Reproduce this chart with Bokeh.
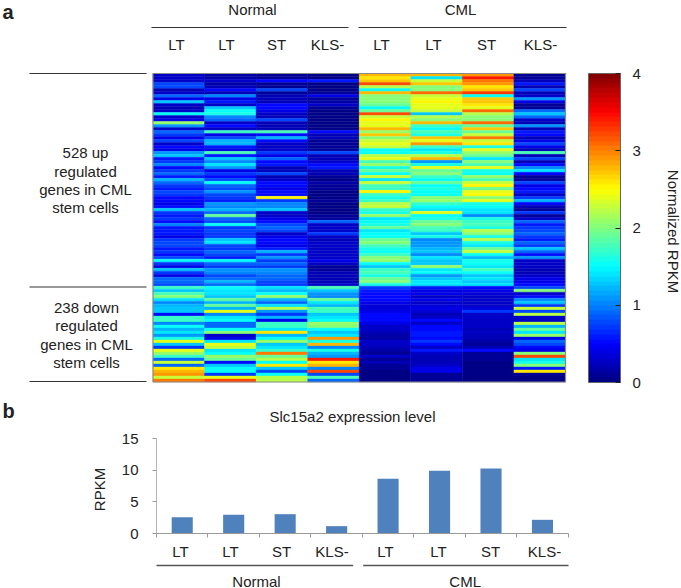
from bokeh.plotting import figure
from bokeh.layouts import column
from bokeh.models import (Range1d, LinearColorMapper, ColorBar, FixedTicker, LinearAxis,
                          ColumnDataSource)
from bokeh.transform import linear_cmap
from bokeh.core.properties import value
from bokeh.embed import file_html
from bokeh.resources import INLINE

groups = ["Normal", "CML"]
samples = ["LT", "LT", "ST", "KLS-", "LT", "LT", "ST", "KLS-"]
cbar_ticks = [0, 1, 2, 3, 4]
rpkm_ticks = [0, 5, 10, 15]
slc15a2 = [2.58, 2.95, 3.05, 1.16, 8.63, 9.9, 10.27, 2.16]

normal_lt1 = [.3,.3,.25,.8,.8,.2,.3,.9,.4,1.3,.3,.2,.25,1.5,.3,.4,2.1,1.1,.3,.9,.7,.4,.8,.3,.5,.4,1.1,1.3,.6,.7,1.0,.5,.7,.9,.6,1.2,
 .9,.7,.6,.8,.7,.5,.5,.4,.5,1.3,.7,.6,.7,.5,1.0,.6,.6,.6,.4,.7,.8,.8,.6,.7,.5,.8,1.5,.7,.4,1.3,.7,.4,.9,.9,.8,1.7,
 1.3,1.8,2.0,1.4,1.0,1.2,1.3,1.3,.5,1.7,1.7,1.0,1.5,1.2,1.4,1.1,1.6,2.4,1.3,.7,2.4,2.1,1.7,.9,2.3,.9,2.6,2.8,2.9,2.3,3.0]
normal_lt2 = [.15,.15,.3,.15,.2,.5,.2,1.0,.4,.6,.3,1.3,1.5,1.6,1.0,.9,.3,.5,.3,1.7,.4,.8,1.2,1.2,.6,.4,1.8,.6,1.3,1.0,1.4,1.1,.4,.7,.5,.8,
 1.5,.9,.8,1.1,.8,.7,.6,1.1,1.0,1.2,.9,1.9,.9,.8,1.5,.7,.8,.7,.7,1.3,1.4,.8,.7,.9,.8,.6,1.5,.9,.7,1.1,1.0,.8,.9,1.2,.9,1.5,
 1.4,1.4,1.3,1.9,1.2,1.9,1.2,2.4,1.0,1.4,1.5,.9,.9,1.5,2.0,.3,.4,1.4,2.4,2.3,1.4,1.5,2.1,1.9,.5,1.3,1.5,1.5,.7,2.4,3.2]
normal_st = [.1,.1,.5,.1,.1,.8,.1,.2,.2,.2,.5,.5,.4,.3,.2,.8,.2,.2,.2,1.8,.5,1.2,.5,.3,.3,.3,.7,.4,.9,.5,.6,.2,.2,.8,.2,.3,
 .5,.5,.4,.5,.5,2.5,.7,1.0,1.0,1.3,.3,.3,.4,.5,.8,.9,.8,.3,.4,.5,.5,.4,.6,1.2,.7,1.1,.7,.9,.7,1.1,1.0,.9,.9,.8,.7,1.4,
 1.2,1.5,2.1,1.2,.9,1.4,2.2,1.1,.7,1.2,.4,1.7,1.7,1.4,2.6,1.2,1.5,2.1,1.3,1.4,1.7,3.0,1.9,2.2,1.5,2.6,1.3,.8,1.5,2.2,2.2]
normal_kls = [.05,.05,.6,.05,.05,.05,.1,.4,.1,.15,.3,.1,.05,.05,.05,.05,.05,.05,.05,.5,.2,.2,.1,.1,.1,.1,.8,.2,.2,.3,.5,.6,.2,.2,.1,.05,
 .15,.1,.1,.05,.05,.05,.1,.05,.05,.05,.05,.1,.1,.9,.3,.3,.3,.7,.3,.2,.3,.3,.3,.3,.3,.3,.4,.3,.1,.1,.2,.2,.2,.2,.3,1.8,
 1.3,1.1,1.0,1.9,1.4,1.2,1.8,1.7,1.3,1.4,1.5,2.1,2.0,1.5,1.3,1.4,2.9,1.6,2.8,1.0,1.6,1.2,1.1,3.4,2.6,2.8,1.0,3.2,.8,1.8,.9]
cml_lt1 = [2.8,2.6,2.7,3.2,2.2,1.5,2.8,2.0,2.0,2.0,1.9,1.5,1.9,3.2,2.3,2.5,2.4,2.4,2.8,2.1,2.7,2.0,2.3,2.4,2.3,1.5,1.5,2.2,2.4,1.8,2.1,1.6,1.9,1.5,2.3,1.4,
 2.3,1.8,1.7,2.5,1.7,1.6,1.7,2.2,2.3,1.7,1.6,2.1,1.4,1.5,1.6,1.9,1.4,1.5,1.5,1.9,2.0,1.8,1.6,1.5,1.7,2.0,2.1,1.5,1.3,1.7,1.8,1.6,1.9,2.0,1.6,.7,
 .6,.5,.5,.5,.4,.35,.35,.4,.5,.5,.5,.4,.3,.3,.2,.15,.15,.3,.3,.2,.15,.1,.3,.1,.2,.1,.1,.05,.05,.05,.05]
cml_lt2 = [2.8,1.4,2.3,2.7,2.0,2.0,3.1,2.3,2.4,2.5,2.4,2.4,2.3,1.3,2.2,2.0,2.8,1.7,1.5,1.8,1.6,2.7,2.4,2.9,1.7,1.4,1.6,2.2,2.8,1.1,1.6,2.4,1.9,2.0,1.7,1.5,
 1.9,1.5,1.6,1.5,1.5,2.0,2.1,1.7,1.5,1.4,2.4,1.5,1.6,1.9,2.0,1.8,1.7,1.3,1.6,1.0,1.1,1.1,1.2,1.3,1.0,1.4,1.3,1.3,2.1,1.4,1.5,1.1,1.3,1.4,1.4,.6,
 .4,.4,.3,.4,.3,.35,.4,.35,.2,.3,.5,.3,.5,.5,.6,.6,.5,.7,.5,.3,.6,.3,.2,.2,.2,.3,.4,.4,.1,.1,.1]
cml_st = [2.9,3.4,3.0,2.9,2.6,2.7,3.3,1.5,2.7,2.7,2.6,2.4,3.1,2.2,2.0,2.0,3.1,1.9,2.7,1.9,2.3,3.0,2.3,2.6,1.6,2.4,2.1,1.9,1.4,2.0,1.8,2.4,1.6,1.5,2.1,1.8,
 2.3,2.5,1.9,2.4,2.5,2.0,2.4,1.6,1.5,1.4,1.4,1.0,1.6,1.7,1.8,1.6,2.2,2.0,1.6,2.2,1.6,1.4,1.9,2.3,1.5,1.2,1.6,1.5,1.4,1.8,1.5,1.3,1.4,1.3,1.4,.5,
 .4,.35,.3,.3,.25,.3,.35,.7,.3,.3,.3,.3,.3,.2,.25,.2,.2,.15,.1,.2,.5,.1,.1,.1,.05,.05,.05,.05,.05,.05,.05]
cml_kls = [.1,.1,.2,.6,.2,.8,.2,.3,1.1,.4,.1,.1,.9,1.3,.9,.3,.2,1.1,.2,.6,.5,.2,.4,.8,.4,.2,1.8,.2,.8,.2,.5,1.0,1.4,.5,.1,.1,
 .8,.4,.5,.6,.3,.7,1.2,.5,.2,.1,.7,.1,.3,.9,.6,.7,.8,.9,.7,.6,.9,.7,1.3,.9,.5,1.1,.3,.3,.3,.2,.2,.3,.4,.4,.5,.8,
 2.0,.3,.5,1.0,1.3,.7,2.3,.8,2.2,.3,.3,2.2,1.2,1.9,1.4,2.1,.4,.9,.8,.5,.4,2.0,3.2,1.4,1.6,2.0,.6,2.6,.1,.05,.05]
columns = [normal_lt1, normal_lt2, normal_st, normal_kls, cml_lt1, cml_lt2, cml_st, cml_kls]


def jet(n=64):
    out = []
    for i in range(n):
        t = (i + 0.5) / n
        chan = [min(1, max(0, 1.5 - abs(4 * t - c))) for c in (3, 2, 1)]
        out.append("#%02x%02x%02x" % tuple(int(round(255 * c)) for c in chan))
    return out


JET = jet()
FONT = value("Liberation Sans")
INK = "#222222"
W = 681

# ---------- top panel: frame spans the page; the heat map occupies part of it ----------
TOP_H = 400
LEFT = 152.5
CELL_W = (565 - LEFT) / 8
N_ROWS = len(normal_lt1)
CELL_H = (381.5 - 73) / N_ROWS


def tx(px):
    return (px - LEFT) / CELL_W


def ty(py):
    return (py - 73) / CELL_H


top = figure(width=W, height=TOP_H, output_backend="svg", toolbar_location=None,
             x_range=Range1d(tx(0), tx(W)), y_range=Range1d(ty(TOP_H), ty(0)),
             x_axis_type=None, y_axis_type=None, min_border=0, outline_line_color=None)
top.grid.visible = False

xs, ys, vs = [], [], []
for ci, col in enumerate(columns):
    for ri, v in enumerate(col):
        xs.append(ci + 0.5)
        ys.append(ri + 0.5)
        vs.append(v)
cmap = linear_cmap("v", JET, 0, 4)
top.rect(x="x", y="y", width=1, height=1, source=ColumnDataSource(dict(x=xs, y=ys, v=vs)),
         fill_color=cmap, line_color=cmap, line_width=0.4)
top.quad(left=[0], right=[8], top=[0], bottom=[N_ROWS], fill_color=None, line_color="#8a8a8a", line_width=1.2)


def top_text(px, py, texts, size="15px", align="center", angle=0, weight="normal"):
    top.text(x=[tx(px)], y=[ty(py)], text=[texts], text_font=FONT, text_font_size=size,
             text_align=align, text_baseline="middle", text_color=INK, angle=angle,
             text_font_style=weight)


def top_line(x0, x1, y0, y1, color="#333333", width=1):
    top.segment(x0=[tx(x0)], x1=[tx(x1)], y0=[ty(y0)], y1=[ty(y1)], line_color=color, line_width=width)


top_text(2, 11.5, "a", size="20px", align="left", weight="bold")
top_text(252, 9, groups[0])
top_text(460, 9, groups[1])
top_line(151, 348, 27, 27)
top_line(358, 566, 27, 27)
for px, s in zip((176, 226, 276, 327, 381, 433, 486, 540), samples):
    top_text(px, 44, s)

top_line(29, 146, 73, 73)
top_line(29, 146, 286.5, 286.5)
top_line(29, 146, 381, 381)
for py, s in zip((152, 171, 189, 207), ("528 up", "regulated", "genes in CML", "stem cells")):
    top_text(85, py, s)
for py, s in zip((307, 325, 344, 362), ("238 down", "regulated", "genes in CML", "stem cells")):
    top_text(86, py, s)

mapper = LinearColorMapper(palette=JET, low=0, high=4)
cb = ColorBar(color_mapper=mapper, width=32, height=309, location=(588, 18), padding=0, margin=0,
              ticker=FixedTicker(ticks=cbar_ticks), major_tick_in=5, major_tick_out=0,
              major_tick_line_color="#222222", minor_tick_line_color=None,
              major_label_text_font="Liberation Sans",
              major_label_text_font_size="15px", major_label_text_color=INK, label_standoff=12,
              bar_line_color="#666666", border_line_color=None, background_fill_color=None)
top.add_layout(cb, "center")
for v in cbar_ticks[1:-1]:
    top.segment(x0=[tx(588)], x1=[tx(593)], y0=[N_ROWS * (1 - v / 4)], y1=[N_ROWS * (1 - v / 4)],
                line_color="#222222", line_width=1)
top_text(673, 231, "Normalized RPKM", angle=-1.5708)

# ---------- bottom panel ----------
BOT_H = 188
AX_L = 156
BAR_W = (567.7 - AX_L) / 8
UNIT = (533 - 438) / 15


def bx(px):
    return (px - AX_L) / BAR_W


def by(py):
    return (533 - py) / UNIT


bot = figure(width=W, height=BOT_H, output_backend="svg", toolbar_location=None,
             x_range=Range1d(bx(0), bx(W)), y_range=Range1d(by(TOP_H + BOT_H), by(TOP_H)),
             x_axis_type=None, y_axis_type=None, min_border=0, outline_line_color=None)
bot.grid.visible = False
centers = [i + 0.5 for i in range(len(slc15a2))]
bot.vbar(x=centers, top=slc15a2, bottom=0, width=0.41, fill_color="#4f81bd", line_color=None)

# labels sit at the reference's slightly irregular spots; category boundaries are the visible ticks
label_pos = [round(bx(px), 3) for px in (180, 230, 281, 331.5, 385, 438, 490, 544)]
xaxis = LinearAxis(fixed_location=0, bounds=(0, 8),
                   ticker=FixedTicker(ticks=label_pos, minor_ticks=list(range(9))),
                   major_label_overrides=dict(zip(label_pos, samples)),
                   major_tick_out=0, major_tick_in=0, minor_tick_out=4, minor_tick_in=0,
                   axis_line_color="#9a9a9a", minor_tick_line_color="#9a9a9a",
                   major_label_text_font="Liberation Sans", major_label_text_font_size="15px",
                   major_label_text_color=INK, major_label_standoff=5)
bot.add_layout(xaxis, "below")
yaxis = LinearAxis(fixed_location=0, bounds=(0, 15), ticker=FixedTicker(ticks=rpkm_ticks),
                   major_tick_out=4, major_tick_in=0, minor_tick_line_color=None,
                   axis_line_color="#b5b5b5", major_tick_line_color="#9a9a9a",
                   major_label_text_font="Liberation Sans", major_label_text_font_size="15px",
                   major_label_text_color=INK, major_label_standoff=14)
bot.add_layout(yaxis, "left")


def bot_text(px, py, s, size="15px", align="center", angle=0, weight="normal"):
    bot.text(x=[bx(px)], y=[by(py)], text=[s], text_font=FONT, text_font_size=size, text_align=align,
             text_baseline="middle", text_color=INK, angle=angle, text_font_style=weight)


bot_text(2, 410, "b", size="20px", align="left", weight="bold")
bot_text(352, 415.5, "Slc15a2 expression level")
bot_text(99, 489, "RPKM", angle=1.5708)
bot.segment(x0=[bx(156), bx(362.7)], x1=[bx(352.7), bx(568)], y0=[by(565)] * 2, y1=[by(565)] * 2,
            line_color="#555555", line_width=1.4)
bot_text(256, 580.5, groups[0])
bot_text(464.7, 580.5, groups[1])

page = column(top, bot, spacing=0)
open("out.html", "w").write(file_html(page, INLINE))
